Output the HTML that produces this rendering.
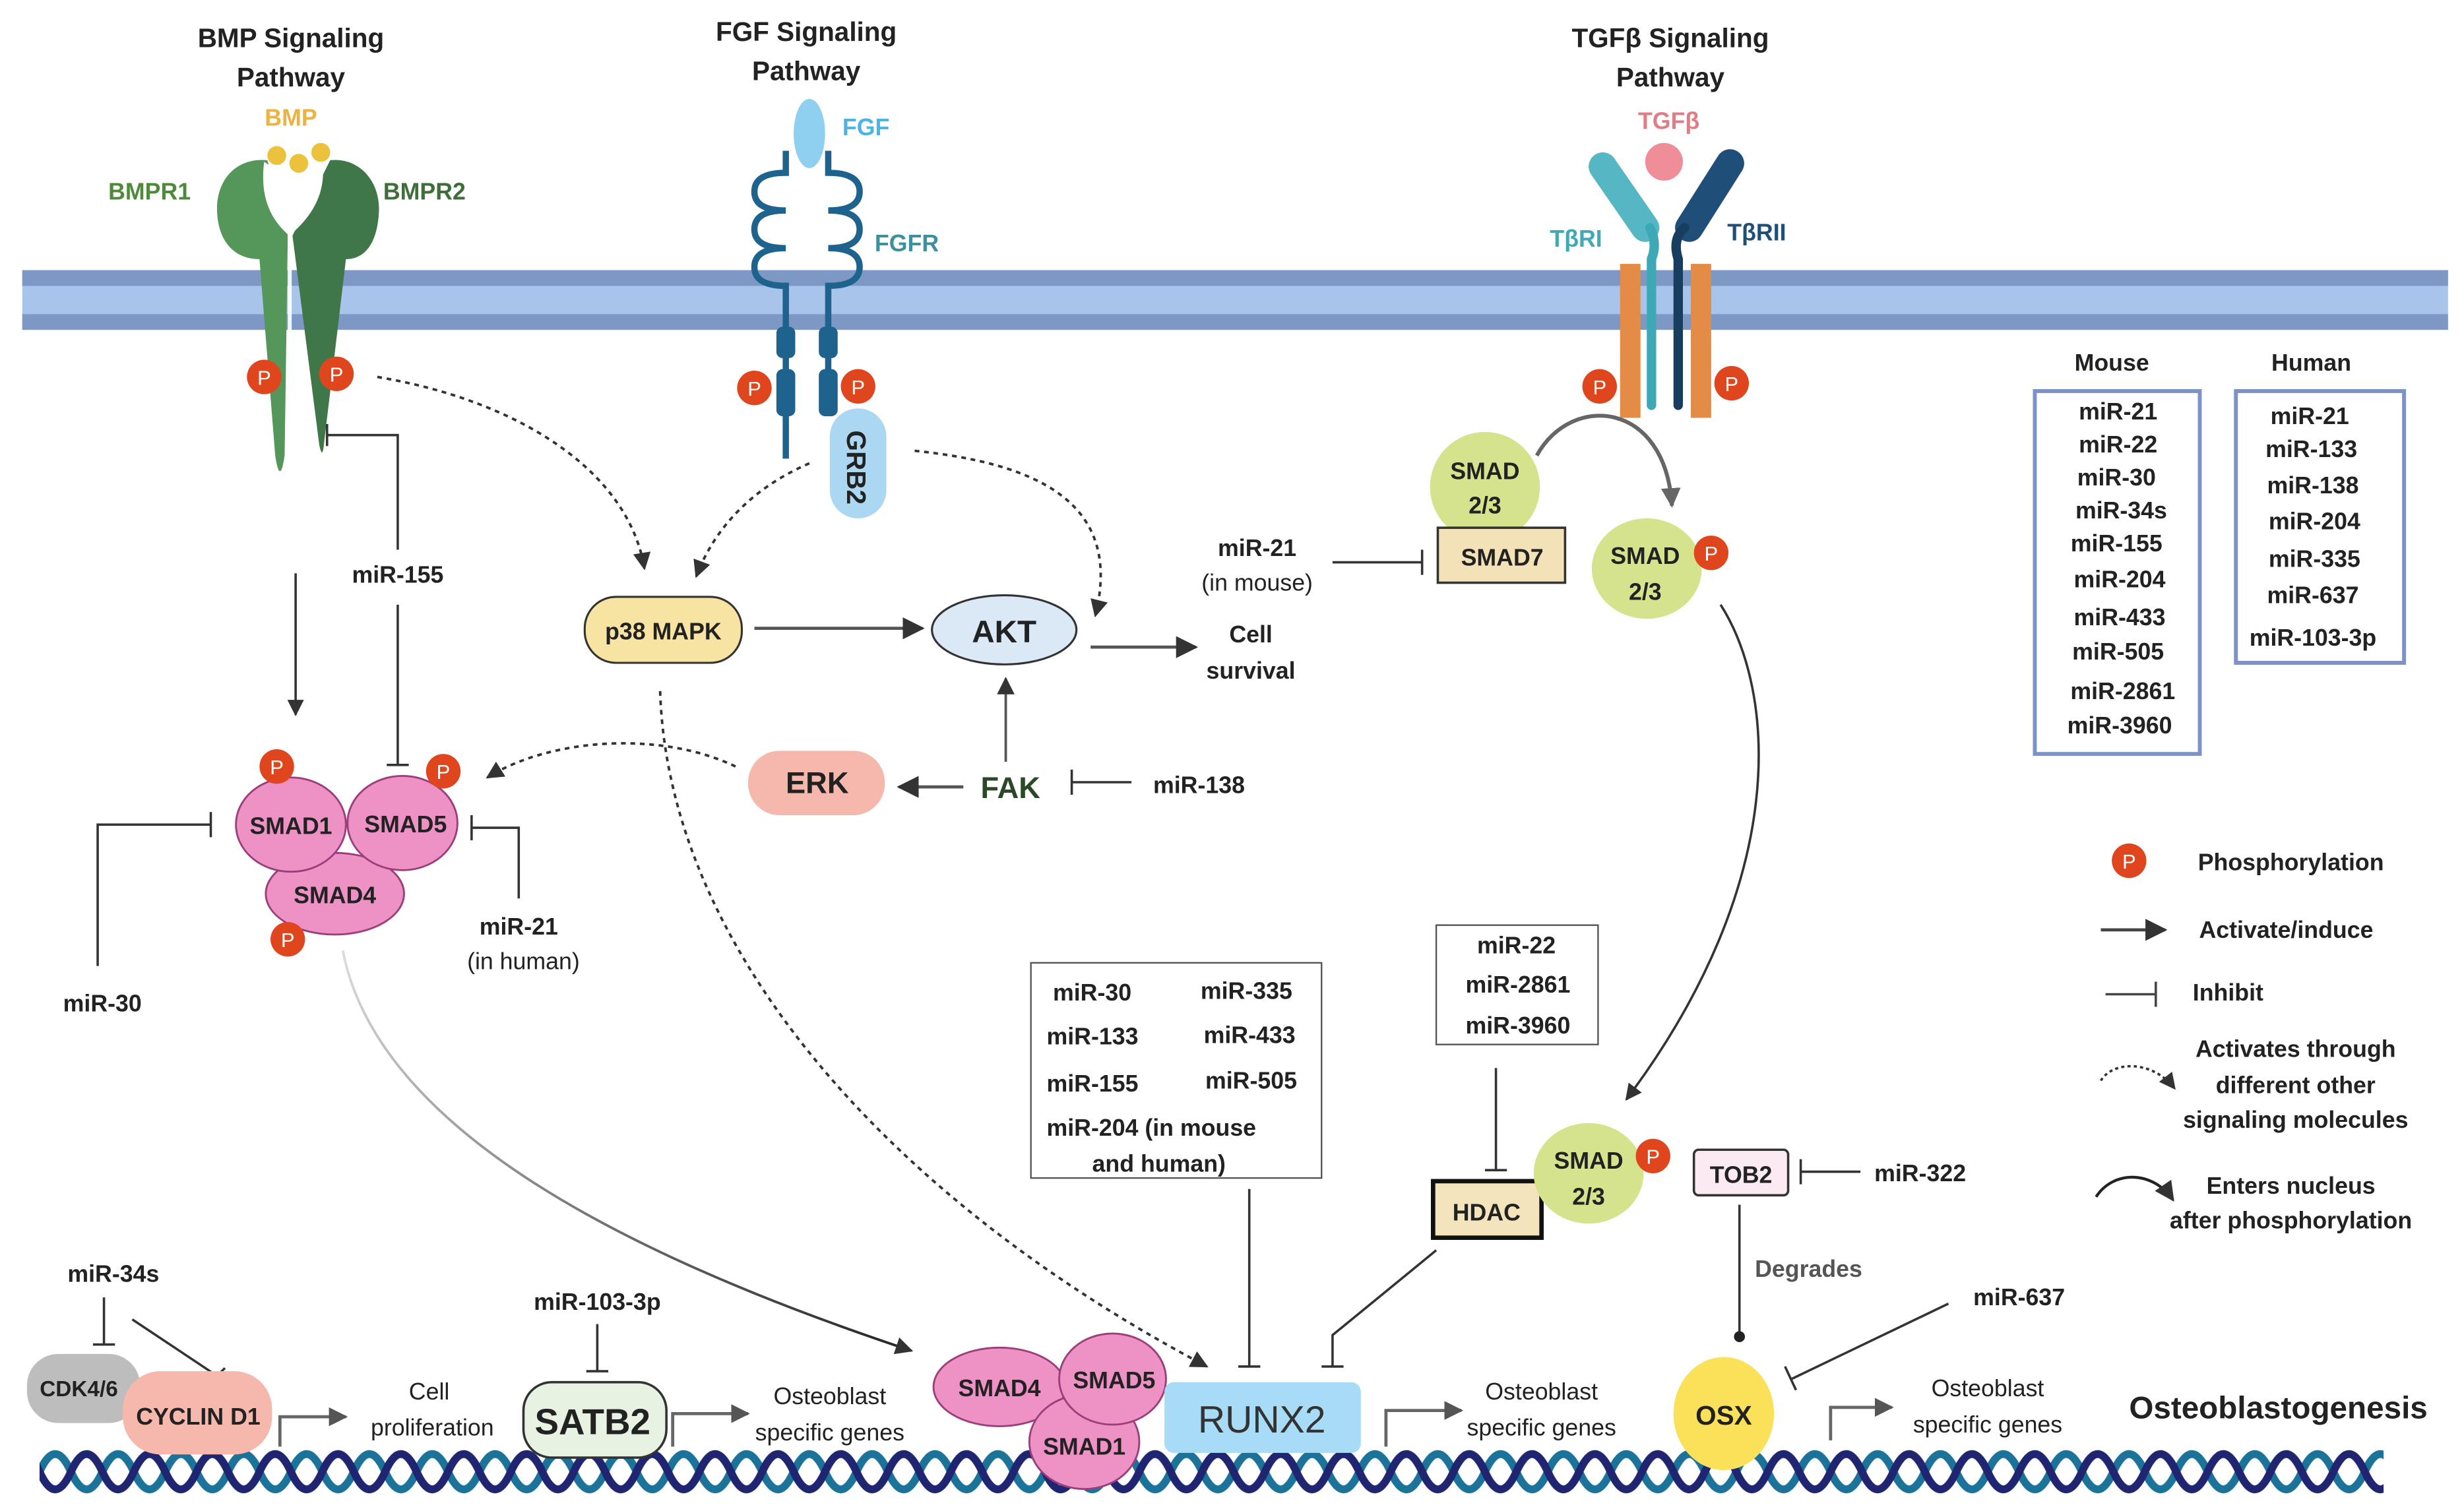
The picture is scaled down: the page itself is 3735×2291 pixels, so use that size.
<!DOCTYPE html>
<html><head><meta charset="utf-8">
<style>
html,body{margin:0;padding:0;background:#fff;}
svg{display:block;}
text{font-family:"Liberation Sans",sans-serif;font-weight:bold;fill:#222;}
</style></head>
<body>
<svg width="3735" height="2291" viewBox="0 0 1568 962" xmlns="http://www.w3.org/2000/svg">
<defs>
<marker id="ah" viewBox="0 0 10 10" refX="9" refY="5" markerWidth="7" markerHeight="7" orient="auto"><path d="M0,0 L10,5 L0,10 z" fill="#333"/></marker>
<marker id="ahg" viewBox="0 0 10 10" refX="9" refY="5" markerWidth="6" markerHeight="6" orient="auto"><path d="M0,0 L10,5 L0,10 z" fill="#555"/></marker>
<marker id="ahb" viewBox="0 0 10 10" refX="9" refY="5" markerWidth="5" markerHeight="5" orient="auto"><path d="M0,0 L10,5 L0,10 z" fill="#666"/></marker>
<pattern id="dna" x="25" y="917" width="40" height="40" patternUnits="userSpaceOnUse">
<path d="M-20,20 C-13.3,35 -6.7,35 0,20 C6.7,5 13.3,5 20,20 C26.7,35 33.3,35 40,20 C46.7,5 53.3,5 60,20" fill="none" stroke="#1c7399" stroke-width="5"/>
<path d="M-20,20 C-13.3,5 -6.7,5 0,20 C6.7,35 13.3,35 20,20 C26.7,5 33.3,5 40,20 C46.7,35 53.3,35 60,20" fill="none" stroke="#1f2570" stroke-width="5"/>
</pattern>
<linearGradient id="gcurve" x1="0" y1="0" x2="1" y2="1"><stop offset="0" stop-color="#ddd"/><stop offset="1" stop-color="#222"/></linearGradient>
</defs>

<!-- membrane -->
<rect x="14" y="172" width="1544" height="38" fill="#a9c4ea"/>
<rect x="14" y="172" width="1544" height="10" fill="#7d98c4"/>
<rect x="14" y="200" width="1544" height="10" fill="#7d98c4"/>

<!-- titles -->
<text x="185" y="30" font-size="17" text-anchor="middle">BMP Signaling</text>
<text x="185" y="55" font-size="17" text-anchor="middle">Pathway</text>
<text x="513" y="26" font-size="17" text-anchor="middle">FGF Signaling</text>
<text x="513" y="51" font-size="17" text-anchor="middle">Pathway</text>
<text x="1063" y="30" font-size="17" text-anchor="middle">TGFβ Signaling</text>
<text x="1063" y="55" font-size="17" text-anchor="middle">Pathway</text>

<!-- BMP receptor -->
<text x="185" y="80" font-size="15" text-anchor="middle" style="fill:#eab343">BMP</text>
<text x="95" y="127" font-size="15" text-anchor="middle" style="fill:#4f8a3c">BMPR1</text>
<text x="270" y="127" font-size="15" text-anchor="middle" style="fill:#3e6e3a">BMPR2</text>
<path d="M170,102 C150,100 137,115 138,135 C139,155 150,165 165,165 L175,290 Q178,310 181,290 L183,150 Z" fill="#55965a"/>
<path d="M210,102 C228,100 242,115 241,135 C240,155 232,165 220,165 L206,283 Q205,293 203,283 L186,150 Z" fill="#3f7748"/>
<path d="M168,103 C165,125 172,140 184,150 C196,140 208,125 205,103 C196,112 180,112 168,103 Z" fill="#fff"/>
<rect x="183" y="150" width="2.5" height="150" fill="#fff" opacity="0.9"/>
<circle cx="176" cy="99" r="6" fill="#ecc23c"/><circle cx="190" cy="104" r="6" fill="#ecc23c"/><circle cx="204" cy="97" r="6" fill="#ecc23c"/>

<!-- FGFR -->
<ellipse cx="515" cy="85" rx="10" ry="22" fill="#8fcff0"/>
<text x="551" y="86" font-size="15" text-anchor="middle" style="fill:#4bb4e6">FGF</text>
<text x="577" y="160" font-size="15" text-anchor="middle" style="fill:#3e8fa0">FGFR</text>
<g fill="none" stroke="#1e638e" stroke-width="4">
<path d="M500,96 L500,110 Q480,110 480,122 Q480,134 500,134 Q480,134 480,146 Q480,158 500,158 Q480,158 480,170 Q480,182 500,182 L500,292"/>
<path d="M527,96 L527,110 Q547,110 547,122 Q547,134 527,134 Q547,134 547,146 Q547,158 527,158 Q547,158 547,170 Q547,182 527,182 L527,262"/>
</g>
<rect x="494" y="208" width="12" height="20" rx="4" fill="#1e638e"/><rect x="521" y="208" width="12" height="20" rx="4" fill="#1e638e"/>
<rect x="494" y="235" width="12" height="30" rx="4" fill="#1e638e"/><rect x="521" y="235" width="12" height="30" rx="4" fill="#1e638e"/>
<rect x="528" y="260" width="36" height="70" rx="18" fill="#acd7f2"/>
<text x="0" y="0" font-size="17" transform="translate(539,274) rotate(90)">GRB2</text>

<!-- TGF receptors -->
<text x="1062" y="82" font-size="15" text-anchor="middle" style="fill:#e07c84">TGFβ</text>
<circle cx="1059" cy="103" r="12" fill="#ef8d98"/>
<text x="1003" y="157" font-size="15" text-anchor="middle" style="fill:#3fa9b5">TβRI</text>
<text x="1118" y="153" font-size="15" text-anchor="middle" style="fill:#1f4e79">TβRII</text>
<rect x="1031" y="168" width="13" height="98" fill="#e48b45"/>
<rect x="1076" y="168" width="13" height="98" fill="#e48b45"/>
<line x1="1020" y1="106" x2="1047" y2="145" stroke="#56b7c4" stroke-width="18" stroke-linecap="round"/>
<path d="M1050,145 Q1055,155 1051,165 L1051,258" stroke="#3ea8b6" stroke-width="6" fill="none" stroke-linecap="round"/>
<line x1="1101" y1="104" x2="1075" y2="145" stroke="#1f4e79" stroke-width="18" stroke-linecap="round"/>
<path d="M1072,145 Q1064,152 1068,165 L1068,258" stroke="#173d5f" stroke-width="6" fill="none" stroke-linecap="round"/>

<!-- P circles -->
<g font-size="13">
<g><circle cx="168" cy="240" r="11" fill="#e0461d"/><text x="168" y="245" text-anchor="middle" style="fill:#fff;font-weight:normal">P</text></g>
<g><circle cx="214" cy="238" r="11" fill="#e0461d"/><text x="214" y="243" text-anchor="middle" style="fill:#fff;font-weight:normal">P</text></g>
<g><circle cx="480" cy="247" r="11" fill="#e0461d"/><text x="480" y="252" text-anchor="middle" style="fill:#fff;font-weight:normal">P</text></g>
<g><circle cx="546" cy="246" r="11" fill="#e0461d"/><text x="546" y="251" text-anchor="middle" style="fill:#fff;font-weight:normal">P</text></g>
<g><circle cx="1018" cy="246" r="11" fill="#e0461d"/><text x="1018" y="251" text-anchor="middle" style="fill:#fff;font-weight:normal">P</text></g>
<g><circle cx="1102" cy="244" r="11" fill="#e0461d"/><text x="1102" y="249" text-anchor="middle" style="fill:#fff;font-weight:normal">P</text></g>
</g>

<!-- Mouse / Human boxes -->
<text x="1344" y="236" font-size="15" text-anchor="middle">Mouse</text>
<text x="1471" y="236" font-size="15" text-anchor="middle">Human</text>
<rect x="1295" y="249" width="105" height="231" fill="none" stroke="#7d93c8" stroke-width="2.5"/>
<rect x="1423" y="249" width="107" height="173" fill="none" stroke="#7d93c8" stroke-width="2.5"/>
<g font-size="15" text-anchor="middle">
<text x="1348" y="267">miR-21</text><text x="1348" y="288">miR-22</text><text x="1347" y="309">miR-30</text><text x="1350" y="330">miR-34s</text><text x="1347" y="351">miR-155</text><text x="1349" y="374">miR-204</text><text x="1349" y="398">miR-433</text><text x="1348" y="420">miR-505</text><text x="1351" y="445">miR-2861</text><text x="1349" y="467">miR-3960</text>
<text x="1470" y="270">miR-21</text><text x="1471" y="291">miR-133</text><text x="1472" y="314">miR-138</text><text x="1473" y="337">miR-204</text><text x="1473" y="361">miR-335</text><text x="1472" y="384">miR-637</text><text x="1472" y="411">miR-103-3p</text>
</g>

<!-- BMP pathway connectors -->
<line x1="188" y1="365" x2="188" y2="455" stroke="#333" stroke-width="1.5" marker-end="url(#ah)"/>
<polyline points="253,350 253,277 208,277" fill="none" stroke="#333" stroke-width="1.5"/>
<line x1="208" y1="270" x2="208" y2="284" stroke="#333" stroke-width="1.5"/>
<text x="253" y="371" font-size="15" text-anchor="middle">miR-155</text>
<line x1="253" y1="385" x2="253" y2="487" stroke="#333" stroke-width="1.5"/>
<line x1="246" y1="487" x2="260" y2="487" stroke="#333" stroke-width="1.5"/>
<polyline points="62,615 62,525 134,525" fill="none" stroke="#333" stroke-width="1.5"/>
<line x1="134" y1="517" x2="134" y2="533" stroke="#333" stroke-width="1.5"/>
<text x="65" y="644" font-size="15" text-anchor="middle">miR-30</text>
<polyline points="330,572 330,527 300,527" fill="none" stroke="#333" stroke-width="1.5"/>
<line x1="300" y1="519" x2="300" y2="535" stroke="#333" stroke-width="1.5"/>
<text x="330" y="595" font-size="15" text-anchor="middle">miR-21</text>
<text x="333" y="617" font-size="15" text-anchor="middle" style="font-weight:normal">(in human)</text>

<!-- SMAD complex -->
<ellipse cx="213" cy="569" rx="44" ry="26" fill="#ee92c6" stroke="#9b3f7c" stroke-width="1.2"/>
<ellipse cx="185" cy="525" rx="35" ry="30" fill="#ee92c6" stroke="#9b3f7c" stroke-width="1.2"/>
<ellipse cx="256" cy="524" rx="35" ry="30" fill="#ee92c6" stroke="#9b3f7c" stroke-width="1.2"/>
<text x="185" y="531" font-size="15" text-anchor="middle">SMAD1</text>
<text x="258" y="530" font-size="15" text-anchor="middle">SMAD5</text>
<text x="213" y="575" font-size="15" text-anchor="middle">SMAD4</text>
<g font-size="13">
<g><circle cx="176" cy="488" r="11" fill="#e0461d"/><text x="176" y="493" text-anchor="middle" style="fill:#fff;font-weight:normal">P</text></g>
<g><circle cx="282" cy="491" r="11" fill="#e0461d"/><text x="282" y="496" text-anchor="middle" style="fill:#fff;font-weight:normal">P</text></g>
<g><circle cx="183" cy="598" r="11" fill="#e0461d"/><text x="183" y="603" text-anchor="middle" style="fill:#fff;font-weight:normal">P</text></g>
</g>

<!-- dotted connectors -->
<g fill="none" stroke="#333" stroke-width="1.6" stroke-dasharray="3,3">
<path d="M240,240 C330,255 400,300 410,362" marker-end="url(#ah)"/>
<path d="M515,295 C480,310 455,335 443,367" marker-end="url(#ah)"/>
<path d="M582,287 C660,295 715,320 697,392" marker-end="url(#ah)"/>
<path d="M468,488 C420,465 350,470 310,495" marker-end="url(#ah)"/>
<path d="M420,440 C425,600 560,760 768,870" marker-end="url(#ah)"/>
</g>

<!-- p38, AKT, ERK, FAK -->
<rect x="372" y="380" width="100" height="42" rx="20" fill="#f8e4a2" stroke="#333" stroke-width="1.3"/>
<text x="422" y="407" font-size="15" text-anchor="middle">p38 MAPK</text>
<ellipse cx="639" cy="401" rx="46" ry="22" fill="#dbe9f7" stroke="#333" stroke-width="1.3"/>
<text x="639" y="409" font-size="20" text-anchor="middle">AKT</text>
<line x1="480" y1="400" x2="587" y2="400" stroke="#555" stroke-width="2" marker-end="url(#ah)"/>
<line x1="694" y1="412" x2="761" y2="412" stroke="#555" stroke-width="2" marker-end="url(#ah)"/>
<text x="796" y="409" font-size="15" text-anchor="middle">Cell</text>
<text x="796" y="432" font-size="15" text-anchor="middle">survival</text>
<rect x="476" y="478" width="87" height="41" rx="20" fill="#f6b8ad"/>
<text x="520" y="505" font-size="19" text-anchor="middle">ERK</text>
<text x="643" y="508" font-size="19" text-anchor="middle" style="fill:#2a4a27">FAK</text>
<line x1="640" y1="485" x2="640" y2="432" stroke="#555" stroke-width="1.6" marker-end="url(#ah)"/>
<line x1="613" y1="501" x2="572" y2="501" stroke="#555" stroke-width="2" marker-end="url(#ah)"/>
<line x1="720" y1="498" x2="682" y2="498" stroke="#333" stroke-width="1.5"/>
<line x1="682" y1="490" x2="682" y2="506" stroke="#333" stroke-width="1.5"/>
<text x="763" y="505" font-size="15" text-anchor="middle">miR-138</text>

<!-- TGF side -->
<path d="M978,290 C1000,250 1060,255 1064,322" fill="none" stroke="#666" stroke-width="2.5" marker-end="url(#ahb)"/>
<ellipse cx="945" cy="310" rx="35" ry="35" fill="#d5e48c"/>
<text x="945" y="305" font-size="15" text-anchor="middle">SMAD</text>
<text x="945" y="327" font-size="15" text-anchor="middle">2/3</text>
<rect x="915" y="336" width="81" height="35" fill="#f3e2b8" stroke="#333" stroke-width="1.5"/>
<text x="956" y="360" font-size="15" text-anchor="middle">SMAD7</text>
<text x="800" y="354" font-size="15" text-anchor="middle">miR-21</text>
<text x="800" y="376" font-size="15" text-anchor="middle" style="font-weight:normal">(in mouse)</text>
<line x1="848" y1="358" x2="905" y2="358" stroke="#333" stroke-width="1.5"/>
<line x1="905" y1="350" x2="905" y2="366" stroke="#333" stroke-width="1.5"/>
<ellipse cx="1048" cy="362" rx="35" ry="32" fill="#d5e48c"/>
<text x="1047" y="359" font-size="15" text-anchor="middle">SMAD</text>
<text x="1047" y="382" font-size="15" text-anchor="middle">2/3</text>
<g font-size="13"><circle cx="1089" cy="352" r="11" fill="#e0461d"/><text x="1089" y="357" text-anchor="middle" style="fill:#fff;font-weight:normal">P</text></g>
<path d="M1095,385 C1130,440 1140,560 1035,700" fill="none" stroke="#333" stroke-width="1.5" marker-end="url(#ah)"/>

<!-- miR box 3 -->
<rect x="914" y="589" width="103" height="76" fill="#fff" stroke="#555" stroke-width="1"/>
<text x="965" y="607" font-size="15" text-anchor="middle">miR-22</text>
<text x="966" y="632" font-size="15" text-anchor="middle">miR-2861</text>
<text x="966" y="658" font-size="15" text-anchor="middle">miR-3960</text>
<line x1="952" y1="680" x2="952" y2="745" stroke="#333" stroke-width="1.5"/>
<line x1="945" y1="745" x2="959" y2="745" stroke="#333" stroke-width="1.5"/>
<rect x="912" y="752" width="69" height="36" fill="#f4e4bc" stroke="#111" stroke-width="2.8"/>
<text x="946" y="777" font-size="15" text-anchor="middle">HDAC</text>
<ellipse cx="1011" cy="747" rx="35" ry="32" fill="#d5e48c"/>
<text x="1011" y="744" font-size="15" text-anchor="middle">SMAD</text>
<text x="1011" y="767" font-size="15" text-anchor="middle">2/3</text>
<g font-size="13"><circle cx="1052" cy="736" r="11" fill="#e0461d"/><text x="1052" y="741" text-anchor="middle" style="fill:#fff;font-weight:normal">P</text></g>
<polyline points="914,796 848,850 848,870" fill="none" stroke="#333" stroke-width="1.5"/>
<line x1="841" y1="870" x2="855" y2="870" stroke="#333" stroke-width="1.5"/>

<!-- TOB2 / OSX -->
<rect x="1078" y="732" width="60" height="29" rx="3" fill="#fbeaf1" stroke="#333" stroke-width="1.5"/>
<text x="1108" y="753" font-size="15" text-anchor="middle">TOB2</text>
<line x1="1184" y1="746" x2="1146" y2="746" stroke="#333" stroke-width="1.5"/>
<line x1="1146" y1="738" x2="1146" y2="754" stroke="#333" stroke-width="1.5"/>
<text x="1222" y="752" font-size="15" text-anchor="middle">miR-322</text>
<line x1="1107" y1="767" x2="1107" y2="850" stroke="#333" stroke-width="1.5"/>
<circle cx="1107" cy="851" r="3.5" fill="#222"/>
<text x="1151" y="813" font-size="15" text-anchor="middle" style="fill:#555">Degrades</text>
<text x="1285" y="831" font-size="15" text-anchor="middle">miR-637</text>
<line x1="1240" y1="830" x2="1140" y2="878" stroke="#333" stroke-width="1.5"/>
<line x1="1136" y1="870" x2="1143" y2="885" stroke="#333" stroke-width="1.5"/>

<!-- legend -->
<g font-size="13"><circle cx="1355" cy="548" r="11" fill="#e0461d"/><text x="1355" y="553" text-anchor="middle" style="fill:#fff;font-weight:normal">P</text></g>
<text x="1458" y="554" font-size="15" text-anchor="middle">Phosphorylation</text>
<line x1="1337" y1="592" x2="1378" y2="592" stroke="#444" stroke-width="2" marker-end="url(#ah)"/>
<text x="1455" y="597" font-size="15" text-anchor="middle">Activate/induce</text>
<line x1="1340" y1="633" x2="1372" y2="633" stroke="#444" stroke-width="1.5"/>
<line x1="1372" y1="625" x2="1372" y2="641" stroke="#444" stroke-width="1.5"/>
<text x="1418" y="637" font-size="15" text-anchor="middle">Inhibit</text>
<path d="M1337,688 C1345,675 1370,675 1384,693" fill="none" stroke="#333" stroke-width="1.5" stroke-dasharray="2,2" marker-end="url(#ah)"/>
<text x="1461" y="673" font-size="15" text-anchor="middle">Activates through</text>
<text x="1461" y="696" font-size="15" text-anchor="middle">different other</text>
<text x="1461" y="718" font-size="15" text-anchor="middle">signaling molecules</text>
<path d="M1334,762 C1345,745 1370,745 1383,764" fill="none" stroke="#222" stroke-width="1.8" marker-end="url(#ah)"/>
<text x="1458" y="760" font-size="15" text-anchor="middle">Enters nucleus</text>
<text x="1458" y="782" font-size="15" text-anchor="middle">after phosphorylation</text>

<!-- miR box RUNX2 -->
<rect x="656" y="613" width="185" height="137" fill="#fff" stroke="#555" stroke-width="1"/>
<g font-size="15">
<text x="670" y="637">miR-30</text><text x="764" y="636">miR-335</text>
<text x="666" y="665">miR-133</text><text x="766" y="664">miR-433</text>
<text x="666" y="695">miR-155</text><text x="767" y="693">miR-505</text>
<text x="666" y="723">miR-204 (in mouse</text><text x="695" y="746">and human)</text>
</g>
<line x1="795" y1="757" x2="795" y2="870" stroke="#333" stroke-width="1.5"/>
<line x1="788" y1="870" x2="802" y2="870" stroke="#333" stroke-width="1.5"/>

<!-- curve from SMAD complex to nucleus SMADs -->
<path d="M218,605 C240,720 400,800 580,860" fill="none" stroke="url(#gcurve)" stroke-width="1.6" marker-end="url(#ah)"/>

<!-- DNA -->
<rect x="25" y="917" width="1492" height="40" fill="url(#dna)"/>

<!-- bottom left -->
<text x="72" y="816" font-size="15" text-anchor="middle">miR-34s</text>
<line x1="66" y1="826" x2="66" y2="856" stroke="#333" stroke-width="1.5"/>
<line x1="59" y1="856" x2="73" y2="856" stroke="#333" stroke-width="1.5"/>
<line x1="84" y1="840" x2="138" y2="876" stroke="#333" stroke-width="1.5"/>
<line x1="133" y1="881" x2="143" y2="871" stroke="#333" stroke-width="1.5"/>
<rect x="17" y="862" width="72" height="44" rx="20" fill="#bdbdbd"/>
<text x="50" y="889" font-size="14" text-anchor="middle">CDK4/6</text>
<rect x="78" y="873" width="95" height="53" rx="24" fill="#f6b8ad"/>
<text x="126" y="907" font-size="15" text-anchor="middle">CYCLIN D1</text>
<polyline points="178,921 178,902 220,902" fill="none" stroke="#666" stroke-width="2" marker-end="url(#ahg)"/>
<text x="273" y="891" font-size="15" text-anchor="middle" style="font-weight:normal;fill:#222">Cell</text>
<text x="275" y="914" font-size="15" text-anchor="middle" style="font-weight:normal;fill:#222">proliferation</text>
<text x="380" y="834" font-size="15" text-anchor="middle">miR-103-3p</text>
<line x1="380" y1="843" x2="380" y2="873" stroke="#333" stroke-width="1.5"/>
<line x1="373" y1="873" x2="387" y2="873" stroke="#333" stroke-width="1.5"/>
<rect x="333" y="880" width="91" height="48" rx="18" fill="#e8f2e2" stroke="#333" stroke-width="1.5"/>
<text x="377" y="913" font-size="23" text-anchor="middle">SATB2</text>
<polyline points="428,921 428,900 476,900" fill="none" stroke="#666" stroke-width="2" marker-end="url(#ahg)"/>
<text x="528" y="894" font-size="15" text-anchor="middle" style="font-weight:normal;fill:#222">Osteoblast</text>
<text x="528" y="917" font-size="15" text-anchor="middle" style="font-weight:normal;fill:#222">specific genes</text>

<!-- nucleus SMADs + RUNX2 -->
<ellipse cx="636" cy="883" rx="42" ry="25" fill="#ee92c6" stroke="#9b3f7c" stroke-width="1.2"/>
<ellipse cx="690" cy="918" rx="35" ry="30" fill="#ee92c6" stroke="#9b3f7c" stroke-width="1.2"/>
<ellipse cx="708" cy="878" rx="34" ry="29" fill="#ee92c6" stroke="#9b3f7c" stroke-width="1.2"/>
<text x="636" y="889" font-size="15" text-anchor="middle">SMAD4</text>
<text x="709" y="884" font-size="15" text-anchor="middle">SMAD5</text>
<text x="690" y="926" font-size="15" text-anchor="middle">SMAD1</text>
<rect x="741" y="880" width="125" height="45" rx="6" fill="#a8dcf6"/>
<text x="803" y="912" font-size="24" text-anchor="middle" style="font-weight:normal;fill:#333">RUNX2</text>
<polyline points="882,921 882,898 930,898" fill="none" stroke="#666" stroke-width="2" marker-end="url(#ahg)"/>
<text x="981" y="891" font-size="15" text-anchor="middle" style="font-weight:normal;fill:#222">Osteoblast</text>
<text x="981" y="914" font-size="15" text-anchor="middle" style="font-weight:normal;fill:#222">specific genes</text>

<!-- OSX -->
<ellipse cx="1097" cy="900" rx="32" ry="36" fill="#fbe05a"/>
<text x="1097" y="907" font-size="17" text-anchor="middle">OSX</text>
<polyline points="1165,917 1165,896 1204,896" fill="none" stroke="#666" stroke-width="2" marker-end="url(#ahg)"/>
<text x="1265" y="889" font-size="15" text-anchor="middle" style="font-weight:normal;fill:#222">Osteoblast</text>
<text x="1265" y="912" font-size="15" text-anchor="middle" style="font-weight:normal;fill:#222">specific genes</text>
<text x="1450" y="903" font-size="20" text-anchor="middle">Osteoblastogenesis</text>
</svg>
</body></html>
